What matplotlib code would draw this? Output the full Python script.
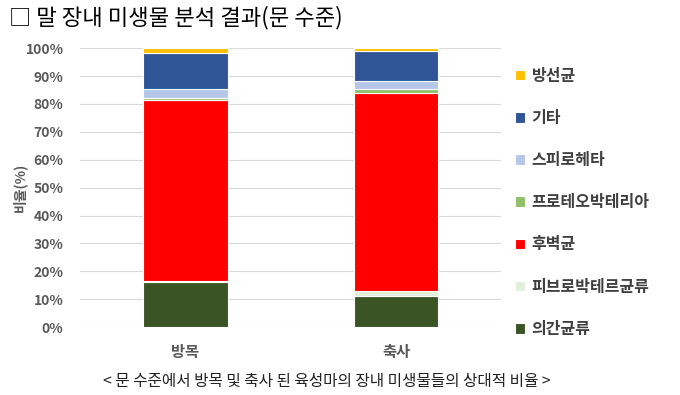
import matplotlib
matplotlib.use("Agg")
import matplotlib.pyplot as plt
import numpy as np

plt.rcParams['font.family'] = ['Noto Sans CJK KR', 'DejaVu Sans']

# data (% of reads at phylum level)
categories = ['방목', '축사']
series = ['의간균류', '피브로박테르균류', '후벽균', '프로테오박테리아', '스피로헤타', '기타', '방선균']
values = {
    '의간균류':         [16.0, 11.3],
    '피브로박테르균류': [0.5, 1.6],
    '후벽균':           [65.0, 71.0],
    '프로테오박테리아': [0.6, 1.4],
    '스피로헤타':       [3.3, 3.0],
    '기타':             [12.7, 10.6],
    '방선균':           [1.9, 1.1],
}
colors = ['#3A5424', '#E2EFDA', '#FF0000', '#8FC06A', '#B4C7E7', '#2F5597', '#FFC000']

fig = plt.figure(figsize=(6.8, 3.95), dpi=100)
ax = fig.add_axes([0.118, 0.172, 0.619, 0.706])

x = np.arange(len(categories))
bottom = np.zeros(len(categories))
handles = []
for name, c in zip(series, colors):
    v = np.array(values[name])
    h = ax.bar(x, v, 0.4, bottom=bottom, color=c, edgecolor='white', linewidth=0.8, zorder=3)
    handles.append(h)
    bottom += v

ax.set_xlim(-0.5, 1.5)
ax.set_ylim(0, 100)
ax.set_yticks(np.arange(0, 101, 10))
ax.set_yticklabels(['%d%%' % t for t in range(0, 101, 10)])
ax.set_xticks(x)
ax.set_xticklabels(categories)
ax.grid(axis='y', color='#D9D9D9', linewidth=0.8, zorder=0)
for s in ax.spines.values():
    s.set_visible(False)
ax.tick_params(length=0, colors='#595959')
for lab in ax.get_yticklabels():
    lab.set_fontsize(10)
    lab.set_fontweight('bold')
for lab in ax.get_xticklabels():
    lab.set_fontsize(11)
    lab.set_fontweight('bold')
ax.tick_params(axis='x', pad=12)
ax.tick_params(axis='y', pad=12)
ax.set_ylabel('비율(%)', fontsize=10, fontweight='bold', color='#595959', labelpad=-1)

leg = fig.legend(handles[::-1], series[::-1], loc='upper left', bbox_to_anchor=(0.736, 0.865),
                 frameon=False, handlelength=0.65, handleheight=0.65, handletextpad=0.4,
                 labelspacing=1.64, prop={'size': 11.5, 'weight': 'bold'})
for t in leg.get_texts():
    t.set_color('#404040')

fig.text(0.013, 0.955, '□ 말 장내 미생물 분석 결과(문 수준)', fontsize=16, va='center', ha='left')
fig.text(0.151, 0.035, '< 문 수준에서 방목 및 축사 된 육성마의 장내 미생물들의 상대적 비율 >',
         fontsize=11.3, va='center', ha='left', color='#222222')

fig.savefig('out.png', dpi=100)
